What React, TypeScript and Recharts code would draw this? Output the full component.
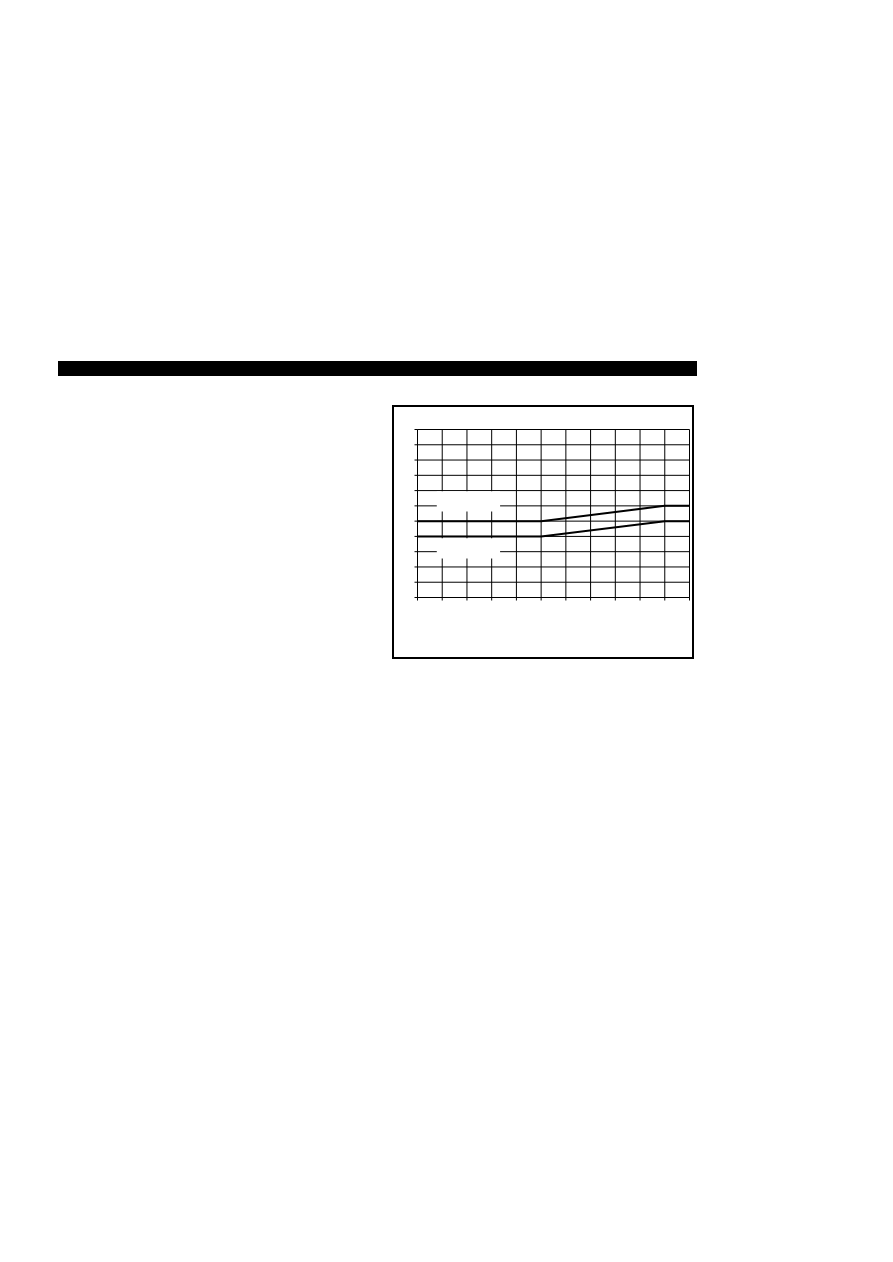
import * as React from "react"
import { LineChart, Line, XAxis, YAxis, CartesianGrid, ReferenceArea } from "recharts"

// breakpoints of the two curves (x in grid divisions)
const xPoints = [0, 5, 10, 11]
const upperValues = [5, 5, 6, 6]
const lowerValues = [4, 4, 5, 5]

const xTicks = [0, 1, 2, 3, 4, 5, 6, 7, 8, 9, 10, 11]
const yTicks = [0, 1, 2, 3, 4, 5, 6, 7, 8, 9, 10, 11]

// blank label boxes that hide the grid
const labelBoxes = [
  { x1: 0.78, x2: 3.34, y1: 5.63, y2: 6.95 },
  { x1: 0.78, x2: 3.34, y1: 2.55, y2: 3.88 },
]

const upperData = xPoints.map((x, i) => ({ x, y: upperValues[i] }))
const lowerData = xPoints.map((x, i) => ({ x, y: lowerValues[i] }))

const blank = () => ""

export default function App() {
  return (
    <div style={{ position: "relative", width: 877, height: 1246 }}>
      {/* header bar */}
      <div style={{ position: "absolute", left: 50, top: 353, width: 639, height: 15, background: "#000" }} />

      {/* framed chart */}
      <div
        style={{
          position: "absolute",
          left: 384,
          top: 397,
          width: 302,
          height: 254,
          border: "2px solid #000",
          boxSizing: "border-box",
          background: "#fff",
        }}
      >
        <LineChart width={298} height={250} margin={{ top: 22.5, right: 2.5, left: 20.5, bottom: 56.5 }}>
          <CartesianGrid stroke="#000" strokeWidth={1} ticks={xTicks} />
          <XAxis
            type="number"
            dataKey="x"
            domain={[0, 11]}
            ticks={xTicks}
            tickFormatter={blank}
            tickSize={3}
            height={3}
            stroke="#000"
            allowDataOverflow
          />
          <YAxis
            type="number"
            dataKey="y"
            domain={[0, 11]}
            ticks={yTicks}
            tickFormatter={blank}
            tickSize={3}
            width={3}
            stroke="#000"
            allowDataOverflow
          />
          {labelBoxes.map((b, i) => (
            <ReferenceArea key={i} x1={b.x1} x2={b.x2} y1={b.y1} y2={b.y2} fill="#fff" fillOpacity={1} stroke="none" />
          ))}
          <Line data={upperData} dataKey="y" type="linear" stroke="#000" strokeWidth={2} dot={false} isAnimationActive={false} />
          <Line data={lowerData} dataKey="y" type="linear" stroke="#000" strokeWidth={2} dot={false} isAnimationActive={false} />
        </LineChart>
      </div>
    </div>
  )
}
